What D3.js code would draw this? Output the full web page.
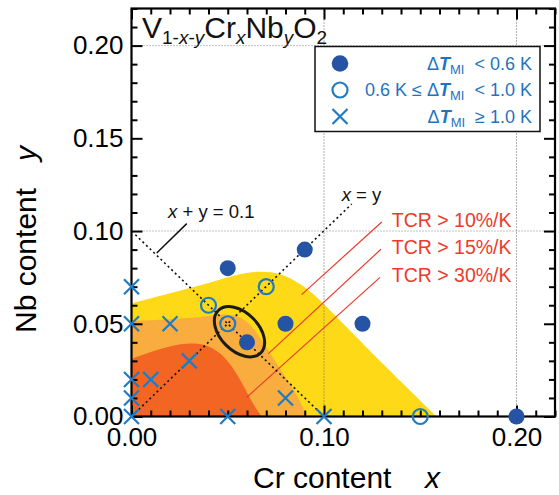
<!DOCTYPE html>
<html>
<head>
<meta charset="utf-8">
<script src="https://cdn.jsdelivr.net/npm/d3@7"></script>
<style>
  body { margin: 0; background: #fff; }
  svg { font-family: "Liberation Sans", Arial, sans-serif; }
  svg text { white-space: pre; }
</style>
</head>
<body>
<div id="chart"></div>
<script>
// measured points, [Cr content x, Nb content y]
const filledPts = [[0.05, 0.08], [0.09, 0.09], [0.06, 0.04], [0.08, 0.05], [0.12, 0.05], [0.20, 0.00]];
const openPts = [[0.04, 0.06], [0.07, 0.07], [0.05, 0.05], [0.15, 0.00]];
const crossPts = [[0, 0.07], [0, 0.05], [0.02, 0.05], [0, 0.02], [0.01, 0.02], [0, 0.01], [0, 0],
                  [0.03, 0.03], [0.05, 0], [0.08, 0.01], [0.10, 0]];

// upper edges of the TCR regions
const tcr10Edge = [[0, 0.061], [0.02, 0.0665], [0.04, 0.072], [0.055, 0.0765], [0.0667, 0.078],
                   [0.078, 0.0765], [0.0875, 0.0715], [0.0944, 0.066], [0.11, 0.05], [0.13, 0.029],
                   [0.1585, 0]];
const tcr15Edge = [[0, 0.0515], [0.02, 0.0525], [0.035, 0.0535], [0.048, 0.055], [0.056, 0.0535],
                   [0.062, 0.049], [0.067, 0.042], [0.071, 0.0357], [0.077, 0.026], [0.0832, 0.016],
                   [0.088, 0.007], [0.091, 0]];
const tcr30Edge = [[0, 0.031], [0.01, 0.0348], [0.02, 0.0378], [0.031, 0.0393], [0.039, 0.0382],
                   [0.046, 0.034], [0.051, 0.0285], [0.0555, 0.0214], [0.0592, 0.0145], [0.0628, 0.0075],
                   [0.0676, 0]];
const tcrLabels = ["TCR > 10%/K", "TCR > 15%/K", "TCR > 30%/K"];
const tcrLeaders = [
  [[0.0884, 0.0657], [0.130, 0.1049]],
  [[0.0711, 0.0339], [0.1296, 0.0902]],
  [[0.0598, 0.0103], [0.1291, 0.0750]]
];
const tcrLabelY = [0.1020, 0.0874, 0.0725];

const xLabelTicks = [0, 0.10, 0.20];
const yLabelTicks = [0, 0.05, 0.10, 0.15, 0.20];
const gridVals = [0.10, 0.20];
const legendLabels = ["< 0.6 K", "0.6 K ≤ ", "≥ 1.0 K"];

const width = 559, height = 495;
const margin = { top: 8.5, right: 4, bottom: 78.5, left: 131.5 };

const svg = d3.select("#chart").append("svg")
  .attr("width", width)
  .attr("height", height);

const x = d3.scaleLinear().domain([0, 0.22]).range([margin.left, width - margin.right]);
const y = d3.scaleLinear().domain([0, 0.22]).range([height - margin.bottom, margin.top]);

const blueDark = "#2554a4", blueLight = "#1f7bc4", red = "#ec3a2c";

svg.append("clipPath").attr("id", "plot")
  .append("rect")
  .attr("x", x(0)).attr("y", y(0.22))
  .attr("width", x(0.22) - x(0)).attr("height", y(0) - y(0.22));

const plot = svg.append("g").attr("clip-path", "url(#plot)");

// filled regions
const edge = d3.line().x(d => x(d[0])).y(d => y(d[1])).curve(d3.curveCatmullRom);
[[tcr10Edge, "#fdd917"], [tcr15Edge, "#f9ad3f"], [tcr30Edge, "#f26522"]].forEach(([pts, c]) => {
  plot.append("path")
    .attr("d", edge(pts) + `L${x(0)},${y(0)}Z`)
    .attr("fill", c);
});

// dotted grid at 0.1 and 0.2
gridVals.forEach(v => {
  plot.append("line")
    .attr("x1", x(0)).attr("x2", x(0.22)).attr("y1", y(v)).attr("y2", y(v))
    .attr("stroke", "#888").attr("stroke-width", 1).attr("stroke-dasharray", "1,2");
  plot.append("line")
    .attr("x1", x(v)).attr("x2", x(v)).attr("y1", y(0)).attr("y2", y(0.22))
    .attr("stroke", "#666").attr("stroke-width", 1).attr("stroke-dasharray", "1,2");
});

// red leaders to TCR labels
tcrLeaders.forEach(seg => {
  plot.append("line")
    .attr("x1", x(seg[0][0])).attr("y1", y(seg[0][1]))
    .attr("x2", x(seg[1][0])).attr("y2", y(seg[1][1]))
    .attr("stroke", red).attr("stroke-width", 1.2);
});
tcrLabels.forEach((t, i) => {
  svg.append("text")
    .attr("x", x(0.1352)).attr("y", y(tcrLabelY[i]))
    .attr("font-size", 19.5).attr("fill", red)
    .text(t);
});

// x = y and x + y = 0.1 guides
plot.append("line")
  .attr("x1", x(0)).attr("y1", y(0)).attr("x2", x(0.1144)).attr("y2", y(0.1146))
  .attr("stroke", "#111").attr("stroke-width", 1.6).attr("stroke-dasharray", "2,3");
plot.append("line")
  .attr("x1", x(0.002)).attr("y1", y(0.098)).attr("x2", x(0.10)).attr("y2", y(0))
  .attr("stroke", "#111").attr("stroke-width", 1.6).attr("stroke-dasharray", "2,3");
plot.append("line")
  .attr("x1", x(0.0131)).attr("y1", y(0.0882)).attr("x2", x(0.0287)).attr("y2", y(0.1040))
  .attr("stroke", "#111").attr("stroke-width", 1.5);

const note1 = svg.append("text").attr("x", x(0.019)).attr("y", y(0.1073)).attr("font-size", 18.5).attr("fill", "#111");
note1.append("tspan").attr("font-style", "italic").text("x");
note1.append("tspan").text(" + y = 0.1");
const note2 = svg.append("text").attr("x", x(0.1092)).attr("y", y(0.1164)).attr("font-size", 18.5).attr("fill", "#111");
note2.append("tspan").attr("font-style", "italic").text("x");
note2.append("tspan").text(" = y");

// ellipse around the optimum
const ec = [0.0561, 0.0457];
svg.append("ellipse")
  .attr("cx", x(ec[0])).attr("cy", y(ec[1]))
  .attr("rx", 30).attr("ry", 19)
  .attr("transform", `rotate(45,${x(ec[0])},${y(ec[1])})`)
  .attr("fill", "none").attr("stroke", "#1a1a1a").attr("stroke-width", 3);

// axes: ticks point inward, minor every 0.01
const minor = d3.range(0, 0.2201, 0.01).map(v => +v.toFixed(2));
const yMinor = minor.filter(v => !yLabelTicks.includes(v));
const xMinor = minor.filter(v => !xLabelTicks.includes(v));
const fmt = d3.format(".2f");

const axes = svg.append("g");
function addAxis(axis, tr) {
  const g = axes.append("g").attr("transform", tr).call(axis);
  g.select(".domain").remove();
  g.selectAll("line").attr("stroke", "#000").attr("stroke-width", 2);
  g.selectAll("text").attr("font-size", 26).attr("font-family", "Liberation Sans, Arial, sans-serif").attr("fill", "#000");
  return g;
}
const b = `translate(0,${y(0)})`, t = `translate(0,${y(0.22)})`;
const l = `translate(${x(0)},0)`, r = `translate(${x(0.22)},0)`;
addAxis(d3.axisBottom(x).tickValues(xMinor).tickSize(-6).tickFormat(""), b);
addAxis(d3.axisBottom(x).tickValues(xLabelTicks).tickSize(-11).tickPadding(11).tickFormat(fmt), b);
addAxis(d3.axisTop(x).tickValues(xMinor).tickSize(-6).tickFormat(""), t);
addAxis(d3.axisTop(x).tickValues(xLabelTicks).tickSize(-11).tickFormat(""), t);
addAxis(d3.axisLeft(y).tickValues(yMinor).tickSize(-6).tickFormat(""), l);
addAxis(d3.axisLeft(y).tickValues(yLabelTicks).tickSize(-11).tickPadding(8).tickFormat(fmt), l);
addAxis(d3.axisRight(y).tickValues(yMinor).tickSize(-6).tickFormat(""), r);
addAxis(d3.axisRight(y).tickValues(yLabelTicks).tickSize(-11).tickFormat(""), r);

svg.append("rect")
  .attr("x", x(0)).attr("y", y(0.22))
  .attr("width", x(0.22) - x(0)).attr("height", y(0) - y(0.22))
  .attr("fill", "none").attr("stroke", "#000").attr("stroke-width", 2.2);

// axis titles
svg.append("text").attr("x", 253).attr("y", height - 7)
  .attr("font-size", 30).attr("fill", "#000").text("Cr content");
svg.append("text").attr("x", 425).attr("y", height - 7)
  .attr("font-size", 30).attr("font-style", "italic").attr("fill", "#000").text("x");

svg.append("text").attr("transform", "translate(36,333) rotate(-90)")
  .attr("font-size", 30).attr("fill", "#000").text("Nb content");
svg.append("text").attr("transform", "translate(36,161) rotate(-90)")
  .attr("font-size", 30).attr("font-style", "italic").attr("fill", "#000").text("y");

// markers
function cross(g, px, py, s) {
  g.append("path")
    .attr("d", `M${px - s},${py - s}L${px + s},${py + s}M${px - s},${py + s}L${px + s},${py - s}`)
    .attr("stroke", blueLight).attr("stroke-width", 2.2).attr("fill", "none");
}
const marks = svg.append("g");
crossPts.forEach(d => cross(marks, x(d[0]), y(d[1]), 7.5));
marks.selectAll("circle.open").data(openPts).join("circle")
  .attr("class", "open")
  .attr("cx", d => x(d[0])).attr("cy", d => y(d[1])).attr("r", 7.5)
  .attr("fill", "none").attr("stroke", blueLight).attr("stroke-width", 2.2);
marks.selectAll("circle.filled").data(filledPts).join("circle")
  .attr("class", "filled")
  .attr("cx", d => x(d[0])).attr("cy", d => y(d[1])).attr("r", 8)
  .attr("fill", blueDark);

// title V1-x-yCrxNbyO2
const title = svg.append("text").attr("x", 142).attr("y", 38).attr("font-size", 30).attr("fill", "#111");
function sub(el, txt, italic) {
  el.append("tspan").attr("font-size", 19).attr("dy", 6).attr("font-style", italic ? "italic" : null).text(txt);
}
title.append("tspan").text("V");
title.append("tspan").attr("font-size", 19).attr("dy", 6).text("1-");
title.append("tspan").attr("font-size", 19).attr("font-style", "italic").text("x");
title.append("tspan").attr("font-size", 19).text("-");
title.append("tspan").attr("font-size", 19).attr("font-style", "italic").text("y");
title.append("tspan").attr("dy", -6).text("Cr");
sub(title, "x", true);
title.append("tspan").attr("dy", -6).text("Nb");
sub(title, "y", true);
title.append("tspan").attr("dy", -6).text("O");
sub(title, "2", false);

// legend
const lg = svg.append("g");
lg.append("rect").attr("x", 315).attr("y", 46.5).attr("width", 225).attr("height", 85)
  .attr("fill", "#fff").attr("stroke", "#111").attr("stroke-width", 1.5);
const rowY = [63.5, 90, 116.5];
lg.append("circle").attr("cx", 340).attr("cy", rowY[0]).attr("r", 8.3).attr("fill", blueDark);
lg.append("circle").attr("cx", 340).attr("cy", rowY[1]).attr("r", 7.5)
  .attr("fill", "none").attr("stroke", blueLight).attr("stroke-width", 2.2);
cross(lg, 340, rowY[2], 7.5);

function dT(el) {
  el.append("tspan").text("Δ");
  el.append("tspan").attr("font-weight", "bold").attr("font-style", "italic").text("T");
  el.append("tspan").attr("font-size", 13).attr("dy", 4).text("MI");
}
legendLabels.forEach((lab, i) => {
  const tx = lg.append("text").attr("x", 532).attr("y", rowY[i] + 6)
    .attr("text-anchor", "end").attr("font-size", 18).attr("fill", "#1f74be");
  if (i === 1) {
    tx.append("tspan").text(lab);
    dT(tx);
    tx.append("tspan").attr("dy", -4).text("  < 1.0 K");
  } else {
    dT(tx);
    tx.append("tspan").attr("dy", -4).text("  " + lab);
  }
});
</script>
</body>
</html>
